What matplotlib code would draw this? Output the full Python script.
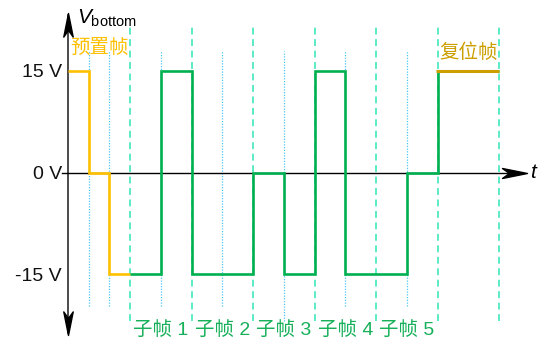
import numpy as np
import matplotlib
matplotlib.use("Agg")
import matplotlib.pyplot as plt
from matplotlib.path import Path

plt.rcParams['font.family'] = ['Liberation Sans', 'Noto Sans CJK SC', 'DejaVu Sans']
plt.rcParams['mathtext.fontset'] = 'custom'
plt.rcParams['mathtext.rm'] = 'Liberation Sans'
plt.rcParams['mathtext.it'] = 'Liberation Sans:italic'

# drive levels (V) for each half of a time slot
preset_levels = [15, 0, -15]            # preset frame, split in thirds
subframe_levels = [[-15, 15], [-15, -15], [0, -15], [15, -15], [-15, 0]]
reset_level = 15
subframe_names = ["子帧 1", "子帧 2", "子帧 3", "子帧 4", "子帧 5"]
ytick_vals = [15, 0, -15]
ytick_text = ["15 V", "0 V", "-15 V"]

c_preset = "#FFC000"
c_sub = "#00B050"
c_reset = "#CC9E00"
c_frame = "#2FE5B5"
c_half = "#4CC8F2"

n_sub = len(subframe_levels)

fig = plt.figure(figsize=(5.43, 3.45), dpi=100)
ax = fig.add_axes([0, 0, 1, 1])
ax.set_xlim(-1.112, 7.71)
ax.set_ylim(-25.37, 25.37)

# frame borders (dashed) and half-slot marks (dotted)
frame_edges = np.arange(1, n_sub + 3)
ax.vlines(frame_edges, -21.8, 21.6, colors=c_frame, linestyles=(0, (4.5, 3)), lw=1.1, zorder=1)
half_marks = [1 / 3, 2 / 3] + [i + 0.5 for i in range(1, n_sub + 1)]
half_bottom = [-19.6, -19.6, -19.6, -19.6, -21.8, -19.6, -19.6]
for x, yb in zip(half_marks, half_bottom):
    ax.plot([x, x], [yb, 17.9], color=c_half, ls=(0, (1, 1.2)), lw=0.9, zorder=1)

# waveform
ax.stairs(preset_levels, [0, 1 / 3, 2 / 3, 1], baseline=None, color=c_preset, lw=1.9, zorder=3)
sub_vals = [v for pair in subframe_levels for v in pair] + [reset_level]
sub_edges = list(np.arange(1, n_sub + 1 + 0.01, 0.5)) + [n_sub + 2]
ax.stairs(sub_vals, sub_edges, baseline=None, color=c_sub, lw=1.9, zorder=3)
ax.hlines(reset_level, n_sub + 0.97, n_sub + 2, colors=c_reset, lw=2.2, zorder=4)

# axes through the origin
for s in ['top', 'right']:
    ax.spines[s].set_visible(False)
ax.spines['left'].set_position(('data', 0))
ax.spines['bottom'].set_position(('data', 0))
ax.spines['left'].set_bounds(-23.6, 23.2)
ax.spines['bottom'].set_bounds(-0.1, 7.2)
ax.spines['left'].set_color('#1a1a1a')
ax.spines['left'].set_linewidth(1.1)
ax.spines['bottom'].set_linewidth(1.0)
ax.set_xticks([])
ax.set_yticks(ytick_vals, ytick_text)
ax.tick_params(axis='y', length=0, pad=4.6, labelsize=14, colors='#111111')
ax.patch.set_visible(False)

# stealth arrow heads
stealth = Path([(0, 0), (-25, 5), (-18, 0), (-25, -5), (0, 0)],
               [Path.MOVETO, Path.LINETO, Path.LINETO, Path.LINETO, Path.CLOSEPOLY])
def head(x, y, angle, ms):
    m = matplotlib.markers.MarkerStyle(stealth)
    m._transform = m.get_transform().rotate_deg(angle)
    ax.plot([x], [y], marker=m, ms=ms, color='black', zorder=5, clip_on=False)

head(7.45, 0, 0, 36)
head(0, 23.5, 90, 34)
head(0, -23.95, -90, 34)

ax.text(0.14, 22.7, r"$V_{\mathrm{bottom}}$", fontsize=15, ha='left', va='center')
ax.text(7.5, 0, "t", fontsize=15, style='italic', ha='left', va='center')

cjk = ['Noto Sans CJK SC', 'DejaVu Sans']
ax.text(0.5, 18.4, "预置帧", family=cjk, fontsize=14, color=c_preset, ha='center', va='center')
ax.text(n_sub + 1.5, 17.6, "复位帧", family=cjk, fontsize=14, color=c_reset, ha='center', va='center')
for i, name in enumerate(subframe_names):
    ax.text(i + 1.5, -23.1, name, family=['Liberation Sans', 'Noto Sans CJK SC'],
            fontsize=14, color="#17B05A", ha='center', va='center')

fig.savefig("out.png", dpi=100)
